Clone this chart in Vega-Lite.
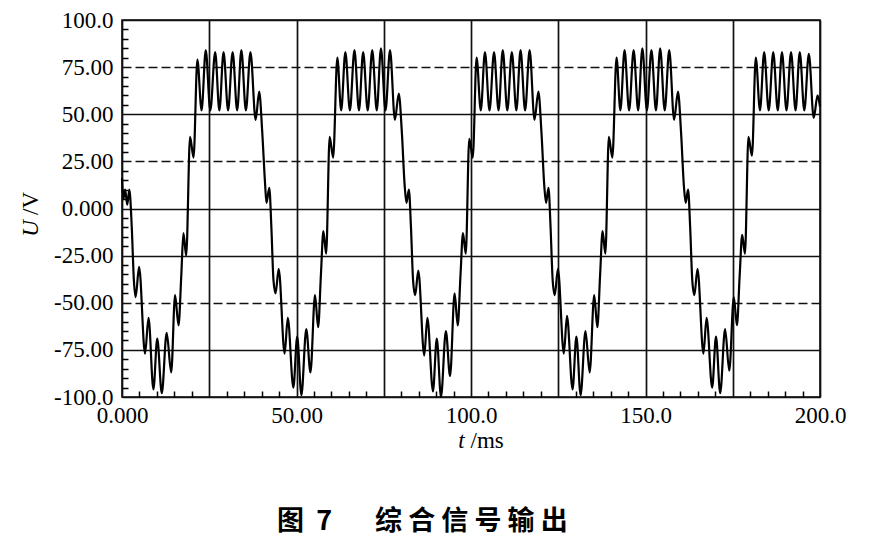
{
  "$schema": "https://vega.github.io/schema/vega-lite/v6.json",
  "width": 698,
  "height": 377,
  "autosize": {"type": "none"},
  "padding": {"left": 122, "top": 20, "right": 49, "bottom": 155},
  "background": "white",
  "config": {"view": {"stroke": "black", "strokeWidth": 1.5}, "font": "Liberation Serif"},
  "title": {
    "text": "图\u00a0\u00a07\u00a0\u00a0\u00a0\u00a0\u00a0\u00a0\u00a0综\u00a0合\u00a0信\u00a0号\u00a0输\u00a0出",
    "orient": "bottom",
    "anchor": "start",
    "dx": 258,
    "offset": 57,
    "font": "Noto Sans CJK SC",
    "fontSize": 27,
    "fontWeight": "bold",
    "color": "black"
  },
  "data": {"values": [
    {"t":0.0,"u":16},{"t":0.4,"u":5},{"t":0.9,"u":10},{"t":1.5,"u":2},{"t":2.1,"u":10},{"t":2.8,"u":-10},{"t":3.4,"u":-38},{"t":3.9,"u":-47},{"t":4.9,"u":-31},{"t":6.6,"u":-77},{"t":7.6,"u":-58},{"t":9.0,"u":-96},{"t":10.1,"u":-69},{"t":11.4,"u":-98},{"t":12.8,"u":-66},{"t":14.1,"u":-87},{"t":15.2,"u":-46},{"t":16.2,"u":-62},{"t":17.0,"u":-35},{"t":17.6,"u":-13},{"t":18.4,"u":-25},{"t":19.5,"u":38},{"t":20.5,"u":27},{"t":21.6,"u":79},{"t":22.8,"u":52},{"t":24.0,"u":84},{"t":25.3,"u":52},{"t":26.7,"u":83},{"t":27.9,"u":52},{"t":29.1,"u":83},{"t":30.4,"u":52},{"t":31.7,"u":83},{"t":33.0,"u":52},{"t":34.2,"u":84},{"t":35.5,"u":52},{"t":36.8,"u":83},{"t":38.3,"u":47},{"t":39.3,"u":62},
    {"t":40.2,"u":40},{"t":41.0,"u":13},{"t":41.4,"u":3},{"t":42.2,"u":11},{"t":42.8,"u":-10},{"t":43.4,"u":-38},{"t":44.0,"u":-45},{"t":44.9,"u":-32},{"t":46.6,"u":-77},{"t":47.5,"u":-58},{"t":49.1,"u":-95},{"t":50.2,"u":-68},{"t":51.4,"u":-99},{"t":52.8,"u":-64},{"t":54.0,"u":-87},{"t":55.3,"u":-46},{"t":56.2,"u":-63},{"t":57.0,"u":-35},{"t":57.7,"u":-12},{"t":58.5,"u":-24},{"t":59.5,"u":38},{"t":60.5,"u":27},{"t":61.7,"u":80},{"t":62.8,"u":52},{"t":64.0,"u":83},{"t":65.3,"u":52},{"t":66.6,"u":84},{"t":67.9,"u":52},{"t":69.1,"u":83},{"t":70.4,"u":52},{"t":71.7,"u":84},{"t":73.0,"u":52},{"t":74.2,"u":85},{"t":75.5,"u":52},{"t":76.8,"u":84},{"t":78.2,"u":47},{"t":79.3,"u":61},
    {"t":80.2,"u":40},{"t":81.0,"u":12},{"t":81.5,"u":3},{"t":82.2,"u":10},{"t":82.8,"u":-10},{"t":83.4,"u":-38},{"t":84.0,"u":-46},{"t":84.9,"u":-33},{"t":86.6,"u":-78},{"t":87.5,"u":-58},{"t":89.1,"u":-97},{"t":90.2,"u":-69},{"t":91.4,"u":-100},{"t":92.8,"u":-65},{"t":94.0,"u":-89},{"t":95.3,"u":-45},{"t":96.2,"u":-62},{"t":97.0,"u":-35},{"t":97.7,"u":-13},{"t":98.5,"u":-24},{"t":99.5,"u":37},{"t":100.5,"u":27},{"t":101.6,"u":80},{"t":102.8,"u":52},{"t":104.0,"u":83},{"t":105.3,"u":52},{"t":106.6,"u":83},{"t":107.9,"u":52},{"t":109.1,"u":84},{"t":110.4,"u":52},{"t":111.7,"u":83},{"t":113.0,"u":52},{"t":114.2,"u":84},{"t":115.5,"u":52},{"t":116.8,"u":84},{"t":118.2,"u":47},{"t":119.3,"u":62},
    {"t":120.2,"u":40},{"t":121.0,"u":12},{"t":121.5,"u":3},{"t":122.2,"u":11},{"t":122.8,"u":-10},{"t":123.4,"u":-38},{"t":124.0,"u":-46},{"t":124.9,"u":-32},{"t":126.6,"u":-77},{"t":127.5,"u":-57},{"t":129.1,"u":-96},{"t":130.2,"u":-68},{"t":131.4,"u":-99},{"t":132.8,"u":-65},{"t":134.0,"u":-87},{"t":135.3,"u":-46},{"t":136.2,"u":-63},{"t":137.0,"u":-35},{"t":137.7,"u":-12},{"t":138.5,"u":-24},{"t":139.5,"u":38},{"t":140.5,"u":27},{"t":141.7,"u":80},{"t":142.8,"u":52},{"t":144.0,"u":84},{"t":145.3,"u":52},{"t":146.6,"u":84},{"t":147.9,"u":52},{"t":149.1,"u":85},{"t":150.4,"u":52},{"t":151.7,"u":84},{"t":153.0,"u":52},{"t":154.2,"u":85},{"t":155.5,"u":52},{"t":156.8,"u":84},{"t":158.2,"u":47},{"t":159.3,"u":62},
    {"t":160.2,"u":40},{"t":161.0,"u":12},{"t":161.5,"u":3},{"t":162.2,"u":10},{"t":162.8,"u":-10},{"t":163.4,"u":-38},{"t":164.0,"u":-46},{"t":164.9,"u":-32},{"t":166.6,"u":-77},{"t":167.5,"u":-58},{"t":169.1,"u":-95},{"t":170.2,"u":-68},{"t":171.4,"u":-98},{"t":172.8,"u":-64},{"t":174.0,"u":-86},{"t":175.3,"u":-47},{"t":176.2,"u":-62},{"t":177.0,"u":-35},{"t":177.7,"u":-14},{"t":178.5,"u":-24},{"t":179.5,"u":38},{"t":180.5,"u":28},{"t":181.6,"u":80},{"t":182.8,"u":52},{"t":184.0,"u":83},{"t":185.3,"u":52},{"t":186.6,"u":83},{"t":187.9,"u":52},{"t":189.1,"u":83},{"t":190.4,"u":52},{"t":191.7,"u":83},{"t":193.0,"u":52},{"t":194.2,"u":83},{"t":195.5,"u":52},{"t":196.8,"u":82},{"t":198.2,"u":48},{"t":199.3,"u":60},{"t":200.0,"u":54}
  ]},
  "layer": [
    {
      "mark": {"type": "line", "interpolate": "monotone", "color": "black", "strokeWidth": 2.2},
      "encoding": {
        "x": {
          "field": "t", "type": "quantitative",
          "scale": {"domain": [0, 200], "nice": false, "zero": false},
          "axis": {
            "orient": "bottom",
            "values": [0, 25, 50, 75, 100, 125, 150, 175, 200],
            "grid": true, "gridColor": "#111111", "gridWidth": 1.7, "gridOpacity": 1,
            "ticks": false, "domain": false,
            "labelExpr": "datum.value % 50 != 0 ? '' : datum.value == 0 ? '0.000' : datum.value == 50 ? '50.00' : format(datum.value, '.1f')",
            "labelFont": "Liberation Serif", "labelFontSize": 23, "labelColor": "black",
            "labelPadding": 7, "labelFlush": false, "labelOverlap": false,
            "title": "t", "titleFont": "Liberation Serif", "titleFontStyle": "italic", "titleFontWeight": "normal",
            "titleFontSize": 23, "titleColor": "black",
            "titleX": 339, "titleY": 50, "titleAlign": "center", "titleBaseline": "alphabetic"
          }
        },
        "y": {
          "field": "u", "type": "quantitative",
          "scale": {"domain": [-100, 100], "nice": false, "zero": false},
          "axis": {
            "orient": "left",
            "values": [-100, -75, -50, -25, 0, 25, 50, 75, 100],
            "grid": true, "gridColor": "#111111", "gridWidth": 1.7, "gridOpacity": 1,
            "gridDash": {"condition": {"test": "datum.value == 75 || datum.value == 25 || datum.value == -50", "value": [9, 4]}, "value": []},
            "ticks": false, "domain": false,
            "labelExpr": "datum.value == 0 ? '0.000' : (datum.value < 0 ? '-' : '') + (abs(datum.value) == 100 ? '100.0' : format(abs(datum.value), '.2f'))",
            "labelFont": "Liberation Serif", "labelFontSize": 23, "labelColor": "black",
            "labelPadding": 9, "labelFlush": false, "labelOverlap": false,
            "title": "U", "titleFont": "Liberation Serif", "titleFontStyle": "italic", "titleFontWeight": "normal",
            "titleFontSize": 23, "titleColor": "black",
            "titleX": -85, "titleY": 208, "titleAlign": "center", "titleBaseline": "alphabetic", "titleAngle": -90
          }
        }
      }
    },
    {
      "mark": {"type": "line", "opacity": 0},
      "encoding": {
        "x": {
          "field": "t", "type": "quantitative",
          "axis": {
            "orient": "bottom",
            "values": [5, 10, 15, 20, 30, 35, 40, 45, 55, 60, 65, 70, 80, 85, 90, 95, 105, 110, 115, 120, 130, 135, 140, 145, 155, 160, 165, 170, 180, 185, 190, 195],
            "grid": false, "ticks": true, "tickSize": -6, "tickColor": "black", "tickWidth": 1.5,
            "labels": false, "domain": false,
            "title": "/ms", "titleFont": "Liberation Serif", "titleFontStyle": "normal", "titleFontWeight": "normal",
            "titleFontSize": 23, "titleColor": "black",
            "titleX": 348, "titleY": 50, "titleAlign": "left", "titleBaseline": "alphabetic"
          }
        },
        "y": {
          "field": "u", "type": "quantitative",
          "axis": {
            "orient": "left",
            "values": [-95, -90, -85, -80, -70, -65, -60, -55, -45, -40, -35, -30, -20, -15, -10, -5, 5, 10, 15, 20, 30, 35, 40, 45, 55, 60, 65, 70, 80, 85, 90, 95],
            "grid": false, "ticks": true, "tickSize": -6, "tickColor": "black", "tickWidth": 1.5,
            "labels": false, "domain": false,
            "title": "/V", "titleFont": "Liberation Serif", "titleFontStyle": "normal", "titleFontWeight": "normal",
            "titleFontSize": 23, "titleColor": "black",
            "titleX": -85, "titleY": 183, "titleAlign": "center", "titleBaseline": "alphabetic", "titleAngle": -90
          }
        }
      }
    }
  ],
  "resolve": {"axis": {"x": "independent", "y": "independent"}}
}
